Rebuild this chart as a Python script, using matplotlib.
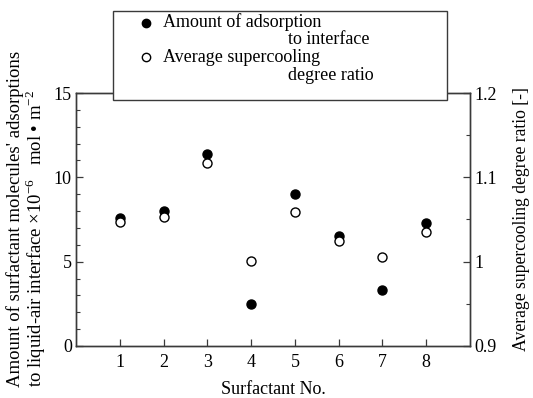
import matplotlib
matplotlib.use("Agg")
import matplotlib.pyplot as plt
from matplotlib.lines import Line2D
from matplotlib.patches import Rectangle
from matplotlib.ticker import MultipleLocator

plt.rcParams['font.family'] = ['Liberation Serif', 'DejaVu Serif']
plt.rcParams['mathtext.fontset'] = 'custom'
plt.rcParams['mathtext.rm'] = 'Liberation Serif'

surfactant_no = [1, 2, 3, 4, 5, 6, 7, 8]
adsorption = [7.6, 8.0, 11.4, 2.5, 9.0, 6.5, 3.3, 7.3]
supercooling_ratio = [1.047, 1.053, 1.117, 1.001, 1.059, 1.024, 1.006, 1.035]
left_ticks = [0, 5, 10, 15]
right_ticks = [0.9, 1.0, 1.1, 1.2]
right_ticklabels = ['0.9', '1', '1.1', '1.2']

W, H = 533, 398
fig = plt.figure(figsize=(W / 100, H / 100), dpi=100)
ax = fig.add_axes([76 / W, 1 - 346 / H, (470 - 76) / W, (346 - 93) / H])
ax2 = ax.twinx()

spine_c = '#3a3a3a'
fs = 13

ax.plot(surfactant_no, adsorption, 'o', color='black', markersize=6.5, zorder=3)
ax2.plot(surfactant_no, supercooling_ratio, 'o', markerfacecolor='white',
         markeredgecolor='black', markeredgewidth=1.0, markersize=6.5, zorder=3)

ax.set_xlim(0, 9)
ax.set_ylim(0, 15)
ax2.set_ylim(0.9, 1.2)
ax.set_xticks(surfactant_no)
ax.set_yticks(left_ticks)
ax.yaxis.set_minor_locator(MultipleLocator(1))
ax2.set_yticks(right_ticks)
ax2.set_yticklabels(right_ticklabels)
ax2.yaxis.set_minor_locator(MultipleLocator(0.05))

for a in (ax, ax2):
    for s in a.spines.values():
        s.set_color(spine_c)
        s.set_linewidth(1.0)
ax.tick_params(axis='x', direction='in', length=5, width=0.9, color=spine_c,
               labelsize=fs, pad=6, top=False)
ax.tick_params(axis='y', which='major', direction='in', length=5, width=0.9,
               color=spine_c, labelsize=fs, pad=3)
ax.tick_params(axis='y', which='minor', direction='in', length=3, width=0.8, color=spine_c)
ax2.tick_params(axis='y', which='major', direction='in', length=5, width=0.9,
                color=spine_c, labelsize=fs, pad=3)
ax2.tick_params(axis='y', which='minor', direction='in', length=3, width=0.8, color=spine_c)

ax.set_xlabel('Surfactant No.', fontsize=fs, labelpad=7)
ax2.set_ylabel('Average supercooling degree ratio [-]', fontsize=12.7, labelpad=12)

fig.text(27 / W, 1 - 387 / H,
         "Amount of surfactant molecules' adsorptions\n"
         "to liquid-air interface \u00d710$^{-6}$   mol \u2022 m$^{-2}$",
         rotation=90, ha='center', va='bottom', multialignment='left',
         fontsize=13.5, linespacing=1.0)

# Legend box
fig.patches.append(Rectangle((112.5 / W, 1 - 100 / H), (447 - 112.5) / W, (100 - 11) / H,
                             transform=fig.transFigure, facecolor='white',
                             edgecolor=spine_c, linewidth=1.0, zorder=10))
fig.lines.append(Line2D([146 / W], [1 - 22.5 / H], marker='o', color='black',
                        markersize=6, linestyle='none', transform=fig.transFigure, zorder=11))
fig.lines.append(Line2D([146 / W], [1 - 57 / H], marker='o', markerfacecolor='white',
                        markeredgecolor='black', markersize=6, linestyle='none',
                        transform=fig.transFigure, zorder=11))
fig.text(163 / W, 1 - 22 / H, 'Amount of adsorption', fontsize=fs, va='center', zorder=12)
fig.text(288 / W, 1 - 40 / H, 'to interface', fontsize=fs, va='center', zorder=12)
fig.text(163 / W, 1 - 57 / H, 'Average supercooling', fontsize=fs, va='center', zorder=12)
fig.text(288 / W, 1 - 75 / H, 'degree ratio', fontsize=fs, va='center', zorder=12)

fig.savefig('out.png', dpi=100)
